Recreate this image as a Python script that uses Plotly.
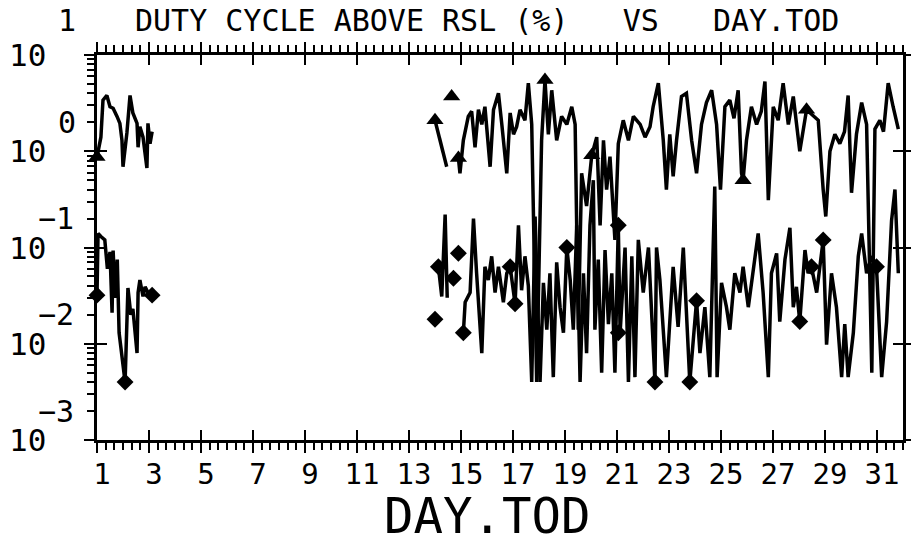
import plotly.graph_objects as go

# ---------------- data ----------------
top_days = [1.0, 1.15, 1.23, 1.38, 1.5, 1.62, 1.77, 1.88, 1.96, 2.0, 2.15, 2.27, 2.38, 2.54, 2.58,
            2.65, 2.77, 2.92, 2.96, 3.04, 3.12, None,
            14.0, 14.19, 14.45, None,
            14.9, 14.96, 15.09, 15.28, 15.41, 15.54, 15.67, 15.8, 15.92, 16.12, 16.25, 16.44, 16.57,
            16.76, 16.89, 17.02, 17.14, 17.27, 17.46, 17.59, 17.72, 17.91, 18.1, 18.23, 18.36, 18.49,
            18.68, 18.87, 19.07, 19.26, 19.39, 19.51, 19.64, 19.83, 20.03, 20.22, 20.35, 20.48, 20.6,
            20.73, 20.92, 21.05, 21.24, 21.44, 21.63, 21.89, 22.08, 22.27, 22.39, 22.59, 22.78, 22.9,
            23.03, 23.16, 23.29, 23.48, 23.67, 23.87, 24.06, 24.25, 24.44, 24.64, 24.83, 24.98, 25.15,
            25.34, 25.5, 25.66, 25.79, 25.85, 25.98, 26.17, 26.37, 26.55, 26.69, 26.82, 27.01, 27.2,
            27.39, 27.59, 27.78, 28.03, 28.29, 28.55, 28.74, 28.93, 29.03, 29.19, 29.38, 29.57, 29.75,
            29.89, 30.02, 30.21, 30.41, 30.6, 30.8, 30.92, 31.11, 31.25, 31.43, 31.62, 31.82]
top_pct = [0.87, 1.4, 3.4, 3.8, 2.9, 2.8, 2.3, 1.95, 1.3, 0.69, 1.55, 3.8, 2.5, 1.95, 1.1,
           1.8, 1.4, 0.67, 1.95, 1.2, 1.6, None,
           2.1, 1.3, 0.69, None,
           0.85, 0.59, 1.3, 2.3, 2.6, 1.1, 2.7, 1.9, 2.9, 0.69, 2.7, 4.0, 1.9,
           0.59, 2.5, 1.5, 1.8, 2.7, 2.1, 5.1, 1.9, 0.004, 1.3, 5.5, 1.5, 4.3,
           1.3, 2.3, 1.9, 2.9, 1.9, 0.014, 0.59, 0.27, 0.91, 1.4, 0.17, 1.3, 0.40,
           0.88, 0.12, 1.2, 2.1, 1.3, 2.3, 1.9, 1.4, 1.8, 2.9, 5.1, 1.3, 0.40,
           1.5, 0.55, 1.3, 3.7, 4.0, 1.3, 0.59, 1.9, 3.2, 4.3, 1.9, 0.40, 2.9,
           3.4, 2.2, 4.3, 0.59, 0.5, 1.3, 2.9, 1.9, 2.6, 5.3, 0.31, 2.9, 2.1,
           5.1, 1.9, 3.7, 1.0, 2.7, 2.3, 2.1, 0.40, 0.21, 1.0, 1.5, 1.2, 1.6,
           3.8, 0.37, 1.5, 3.2, 1.9, 0.005, 1.7, 2.1, 1.6, 5.1, 2.9, 1.7]

low_days = [1.0, 1.04, 1.15, 1.3, 1.4, 1.5, 1.58, 1.62, 1.7, 1.78, 1.85, 2.08, 2.19, 2.3, 2.38,
            2.54, 2.58, 2.65, 2.77, 2.85, 2.96, 3.12, None,
            14.13, 14.26, 14.39, 14.47, None,
            15.09, 15.16, 15.35, 15.48, 15.6, 15.8, 15.92, 16.05, 16.18, 16.31, 16.44, 16.63, 16.76,
            16.89, 17.08, 17.21, 17.33, 17.46, 17.59, 17.72, 17.85, 18.04, 18.17, 18.3, 18.42, 18.55,
            18.68, 18.81, 18.94, 19.07, 19.2, 19.32, 19.45, 19.58, 19.71, 19.83, 19.96, 20.09, 20.15,
            20.28, 20.41, 20.54, 20.67, 20.8, 20.92, 21.05, 21.12, 21.31, 21.44, 21.57, 21.69, 21.82,
            22.01, 22.21, 22.46, 22.52, 22.65, 22.9, 23.16, 23.35, 23.55, 23.8, 24.06, 24.19, 24.38,
            24.57, 24.76, 24.85, 25.02, 25.21, 25.34, 25.53, 25.73, 25.85, 26.05, 26.24, 26.43, 26.62,
            26.82, 26.94, 27.14, 27.26, 27.46, 27.65, 27.78, 27.9, 28.03, 28.23, 28.35, 28.48, 28.68,
            28.93, 29.06, 29.25, 29.44, 29.64, 29.76, 29.89, 30.09, 30.28, 30.41, 30.6, 30.79, 30.98,
            31.18, 31.37, 31.56, 31.69, 31.82]
low_pct = [0.032, 0.14, 0.13, 0.12, 0.06, 0.09, 0.021, 0.093, 0.03, 0.075, 0.013, 0.004, 0.038, 0.02, 0.023,
           0.008, 0.034, 0.046, 0.031, 0.039, 0.034, 0.032, None,
           0.063, 0.031, 0.22, 0.03, None,
           0.013, 0.027, 0.034, 0.20, 0.054, 0.008, 0.063, 0.046, 0.081, 0.034, 0.063, 0.027, 0.054,
           0.063, 0.026, 0.17, 0.036, 0.081, 0.04, 0.004, 0.21, 0.004, 0.043, 0.014, 0.054, 0.0045,
           0.07, 0.024, 0.013, 0.10, 0.046, 0.014, 0.17, 0.004, 0.054, 0.008, 0.17, 0.5, 0.014,
           0.075, 0.005, 0.094, 0.016, 0.054, 0.005, 0.17, 0.013, 0.10, 0.004, 0.081, 0.0045, 0.12,
           0.034, 0.10, 0.004, 0.10, 0.046, 0.0045, 0.063, 0.015, 0.10, 0.004, 0.028, 0.008, 0.024,
           0.0045, 0.43, 0.0045, 0.043, 0.024, 0.014, 0.054, 0.034, 0.063, 0.024, 0.059, 0.14, 0.034,
           0.0045, 0.054, 0.087, 0.017, 0.075, 0.16, 0.024, 0.039, 0.017, 0.094, 0.054, 0.063, 0.034,
           0.12, 0.0098, 0.054, 0.024, 0.0045, 0.016, 0.0045, 0.013, 0.081, 0.14, 0.054, 0.081, 0.063,
           0.0045, 0.017, 0.19, 0.40, 0.054]

tri_days = [1.0, 14.0, 14.64, 14.9, 18.23, 20.03, 25.85, 28.29]
tri_pct = [0.87, 2.1, 3.7, 0.85, 5.5, 0.91, 0.5, 2.7]

dia_days = [1.0, 2.08, 3.12, 14.0, 14.13, 14.71, 14.9, 15.09, 16.89, 17.08, 19.07, 21.05, 21.05,
            22.46, 23.8, 24.06, 28.03, 28.48, 28.93, 30.98]
dia_pct = [0.032, 0.004, 0.032, 0.018, 0.063, 0.048, 0.087, 0.013, 0.063, 0.026, 0.10, 0.17, 0.013,
           0.004, 0.004, 0.028, 0.017, 0.063, 0.12, 0.063]

x_ticks = list(range(1, 32, 2))
x_ticktext = [str(v) for v in x_ticks]
x_range = [1, 32]
y_exponents = [1, 0, -1, -2, -3]
y_decades = [10.0 ** e for e in y_exponents]
y_minor = [m * 10.0 ** e for e in range(-3, 1) for m in range(2, 10)]
title_text = "DUTY CYCLE ABOVE RSL (%)   VS   DAY.TOD"
x_title = "DAY.TOD"

# ---------------- styling ----------------
FONT = "DejaVu Sans Mono"
W, H = 912, 537
ML, MR, MT, MB = 97, 9, 55, 97
PW = W - ML - MR
PH = H - MT - MB

fig = go.Figure()
line_style = dict(color="black", width=3.5)
fig.add_trace(go.Scatter(x=top_days, y=top_pct, mode="lines", line=line_style, connectgaps=False))
fig.add_trace(go.Scatter(x=low_days, y=low_pct, mode="lines", line=line_style, connectgaps=False))
fig.add_trace(go.Scatter(x=tri_days, y=tri_pct, mode="markers", cliponaxis=False,
                         marker=dict(symbol="triangle-up", size=15, color="black")))
fig.add_trace(go.Scatter(x=dia_days, y=dia_pct, mode="markers", cliponaxis=False,
                         marker=dict(symbol="diamond", size=13, color="black")))
# helper (empty) traces so the extra tick axes are drawn
fig.add_trace(go.Scatter(x=[], y=[], xaxis="x2", yaxis="y"))
fig.add_trace(go.Scatter(x=[], y=[], xaxis="x", yaxis="y2"))
fig.add_trace(go.Scatter(x=[], y=[], xaxis="x", yaxis="y3"))

tick_font = dict(family=FONT, size=29, color="black")

fig.update_layout(
    template="none",
    width=W, height=H, showlegend=False,
    margin=dict(l=ML, r=MR, t=MT, b=MB, pad=0, autoexpand=False),
    paper_bgcolor="white", plot_bgcolor="white",
    xaxis=dict(range=x_range, showgrid=False, zeroline=False, automargin=False,
               showline=True, linecolor="black", linewidth=2.5, mirror="ticks",
               ticks="outside", ticklen=10, tickwidth=2, tickcolor="black",
               tickmode="array", tickvals=x_ticks, ticktext=x_ticktext,
               tickfont=tick_font, ticklabelshift=5, ticklabelstandoff=-4,
               minor=dict(tickmode="linear", tick0=1, dtick=1 / 3, ticks="outside",
                          ticklen=7, tickwidth=1.5, tickcolor="black", showgrid=False)),
    xaxis2=dict(range=x_range, overlaying="x", anchor="y", side="bottom", automargin=False,
                showgrid=False, zeroline=False, showline=False, mirror="ticks",
                ticks="inside", ticklen=10, tickwidth=2, tickcolor="black",
                tickmode="array", tickvals=x_ticks, showticklabels=False),
    yaxis=dict(type="log", range=[-3, 1], showgrid=False, zeroline=False, automargin=False,
               showline=True, linecolor="black", linewidth=2.5, mirror=True,
               ticks="outside", ticklen=10, tickwidth=2, tickcolor="black",
               tickmode="array", tickvals=y_decades, showticklabels=False,
               minor=dict(tickmode="array", tickvals=y_minor, ticks="outside",
                          ticklen=7, tickwidth=1.5, tickcolor="black", showgrid=False)),
    yaxis2=dict(type="log", range=[-3, 1], overlaying="y", anchor="x", side="left", automargin=False,
                showgrid=False, zeroline=False, showline=False, mirror="ticks",
                ticks="inside", ticklen=10, tickwidth=2, tickcolor="black",
                tickmode="array", tickvals=y_decades, showticklabels=False),
    yaxis3=dict(type="log", range=[-3, 1], overlaying="y", anchor="x", side="right", automargin=False,
                showgrid=False, zeroline=False, showline=False,
                ticks="outside", ticklen=7, tickwidth=2, tickcolor="black",
                tickmode="array", tickvals=y_decades, showticklabels=False),
)

ann = []
# y tick labels: "10" with raised exponent
for e in y_exponents:
    ann.append(dict(xref="paper", yref="y", x=(27 - ML) / PW, y=e, text="10",
                    showarrow=False, xanchor="center", yanchor="middle",
                    font=dict(family=FONT, size=31, color="black")))
    exp_txt = str(e) if e >= 0 else "\u2212" + str(-e)
    ex = 67 if e >= 0 else 56
    ann.append(dict(xref="paper", yref="y", x=(ex - ML) / PW, y=e, text=exp_txt,
                    showarrow=False, xanchor="center", yanchor="middle",
                    yshift=35 if e == 1 else 29,
                    font=dict(family=FONT, size=30, color="black")))
# title
ann.append(dict(xref="paper", yref="paper", x=(487 - ML) / PW, y=1 + (MT - 21) / PH,
                text=title_text.replace(" ", "\u00a0"), showarrow=False,
                xanchor="center", yanchor="middle",
                font=dict(family=FONT, size=30, color="black")))
# x axis title
ann.append(dict(xref="paper", yref="paper", x=(487 - ML) / PW, y=-(516 - (MT + PH)) / PH,
                text=x_title, showarrow=False, xanchor="center", yanchor="middle",
                font=dict(family=FONT, size=49, color="black")))
fig.update_layout(annotations=ann)

# remove the browser's default page margin so the figure sits at the window's corner
fig.write_html("out.html", config={"displayModeBar": False},
               post_script="document.body.style.margin='0';")
